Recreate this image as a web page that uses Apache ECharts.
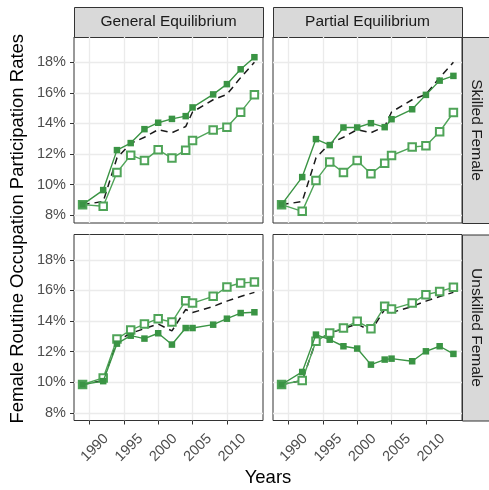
<!DOCTYPE html>
<html>
<head>
<meta charset="utf-8">
<script src="https://cdn.jsdelivr.net/npm/echarts@6/dist/echarts.min.js"></script>
<style>
  html, body { margin: 0; padding: 0; background: #fff; }
  #chart { width: 489px; height: 490px; }
</style>
</head>
<body>
<div id="chart"></div>
<script>
// survey years
const years = [1989, 1992, 1994, 1996, 1998, 2000, 2002, 2004, 2005, 2008, 2010, 2012, 2014]
const xTicks = [1990, 1995, 2000, 2005, 2010]
const yTicks = [8, 10, 12, 14, 16, 18]

const colLabels = ['General Equilibrium', 'Partial Equilibrium']
const rowLabels = ['Skilled Female', 'Unskilled Female']

// skilled female (dashed = data)
const skilledData = [8.7, 8.9, 11.75, 12.7, 13.1, 13.6, 13.4, 13.8, 14.75, 15.55, 15.9, 17.0, 18.0]
const skilledGeFilled = [8.7, 9.65, 12.26, 12.72, 13.63, 14.05, 14.3, 14.48, 15.05, 15.9, 16.57, 17.54, 18.33]
const skilledGeOpen = [8.7, 8.59, 10.8, 11.93, 11.59, 12.28, 11.74, 12.26, 12.89, 13.57, 13.76, 14.74, 15.87]
const skilledPeFilled = [8.7, 10.5, 12.98, 12.59, 13.74, 13.74, 14.02, 13.76, 14.28, 14.93, 15.87, 16.8, 17.11]
const skilledPeOpen = [8.7, 8.26, 10.28, 11.48, 10.8, 11.59, 10.72, 11.41, 11.91, 12.46, 12.54, 13.46, 14.72]

// unskilled female
const unskilledData = [9.85, 10.1, 12.7, 13.2, 13.5, 13.8, 13.35, 14.75, 14.55, 14.95, 15.3, 15.6, 15.87]
const unskilledGeFilled = [9.85, 10.07, 12.52, 13.04, 12.85, 13.2, 12.46, 13.54, 13.54, 13.76, 14.15, 14.52, 14.57]
const unskilledGeOpen = [9.85, 10.28, 12.83, 13.41, 13.8, 14.15, 13.93, 15.33, 15.17, 15.61, 16.22, 16.48, 16.54]
const unskilledPeFilled = [9.85, 10.67, 13.11, 12.78, 12.35, 12.2, 11.15, 11.48, 11.54, 11.37, 12.02, 12.35, 11.85]
const unskilledPeOpen = [9.85, 10.11, 12.67, 13.22, 13.54, 13.98, 13.5, 14.96, 14.78, 15.17, 15.72, 15.93, 16.2]

const panels = [
    { data: skilledData, filled: skilledGeFilled, open: skilledGeOpen },
    { data: skilledData, filled: skilledPeFilled, open: skilledPeOpen },
    { data: unskilledData, filled: unskilledGeFilled, open: unskilledGeOpen },
    { data: unskilledData, filled: unskilledPeFilled, open: unskilledPeOpen }
]

const FONT = '"Liberation Sans", Arial, sans-serif'
const GREEN = '#3a9444'
const GREEN_LIGHT = '#4fa458'
const colLeft = [74, 273]
const rowTop = [37, 234.5]
const panelW = 189
const panelH = 186

const pairs = arr => years.map((y, i) => [y, arr[i]])

const grids = []
const xAxes = []
const yAxes = []
const series = []

panels.forEach((p, i) => {
    const r = Math.floor(i / 2)
    const c = i % 2
    grids.push({
        left: colLeft[c], top: rowTop[r], width: panelW, height: panelH,
        show: true, borderColor: '#333', borderWidth: 1, backgroundColor: '#fff'
    })
    xAxes.push({
        type: 'value', gridIndex: i, min: 1987.75, max: 2015.25,
        axisLine: { show: false },
        axisTick: { show: r === 1, length: 4, customValues: xTicks, lineStyle: { color: '#333', width: 1 } },
        axisLabel: {
            show: r === 1, customValues: xTicks, rotate: 45, margin: 22,
            align: 'center', verticalAlign: 'top', formatter: v => String(v),
            color: '#4d4d4d', fontSize: 14.5, fontFamily: FONT
        },
        splitLine: { show: true, lineStyle: { color: '#ebebeb', width: 1.3 } }
    })
    yAxes.push({
        type: 'value', gridIndex: i, min: 7.5, max: 19.65,
        axisLine: { show: false },
        axisTick: { show: c === 0, length: 4, customValues: yTicks, lineStyle: { color: '#333', width: 1 } },
        axisLabel: {
            show: c === 0, customValues: yTicks, margin: 8,
            formatter: v => v + '%', color: '#4d4d4d', fontSize: 14.5, fontFamily: FONT
        },
        splitLine: { show: true, lineStyle: { color: '#ebebeb', width: 1.3 } }
    })
    series.push({
        type: 'line', xAxisIndex: i, yAxisIndex: i, data: pairs(p.data),
        symbol: 'none', lineStyle: { color: '#1a1a1a', width: 1.5, type: [7, 5] }, z: 2
    })
    series.push({
        type: 'line', xAxisIndex: i, yAxisIndex: i, data: pairs(p.open),
        symbol: 'emptyRect', symbolSize: 7.5,
        itemStyle: { color: GREEN_LIGHT, borderColor: GREEN_LIGHT, borderWidth: 1.2 },
        lineStyle: { color: GREEN_LIGHT, width: 1.4 }, z: 3
    })
    series.push({
        type: 'line', xAxisIndex: i, yAxisIndex: i, data: pairs(p.filled),
        symbol: 'rect', symbolSize: 6.5,
        itemStyle: { color: GREEN },
        lineStyle: { color: GREEN, width: 1.4 }, z: 4
    })
})

// facet strips
const graphics = []
colLabels.forEach((t, c) => {
    graphics.push({
        type: 'rect', left: colLeft[c], top: 7,
        shape: { width: panelW, height: rowTop[0] - 7 },
        style: { fill: '#d9d9d9', stroke: '#333', lineWidth: 1 }
    })
    graphics.push({
        type: 'text', x: colLeft[c] + panelW / 2, y: 7 + (rowTop[0] - 7) / 2,
        style: { text: t, fill: '#1a1a1a', font: '15.5px ' + FONT, align: 'center', verticalAlign: 'middle' }
    })
})
rowLabels.forEach((t, r) => {
    const x0 = colLeft[1] + panelW
    graphics.push({
        type: 'rect', left: x0, top: rowTop[r],
        shape: { width: 489 - x0 + 2, height: panelH },
        style: { fill: '#d9d9d9', stroke: '#333', lineWidth: 1 }
    })
    graphics.push({
        type: 'text', x: x0 + 14, y: rowTop[r] + panelH / 2, rotation: -Math.PI / 2,
        style: { text: t, fill: '#1a1a1a', font: '15.5px ' + FONT, align: 'center', verticalAlign: 'middle' }
    })
})
// axis titles
graphics.push({
    type: 'text', x: (colLeft[0] + colLeft[1] + panelW) / 2, y: 478,
    style: { text: 'Years', fill: '#000', font: '18.5px ' + FONT, align: 'center', verticalAlign: 'middle' }
})
graphics.push({
    type: 'text', x: 18, y: (rowTop[0] + rowTop[1] + panelH) / 2, rotation: Math.PI / 2,
    style: {
        text: 'Female Routine Occupation Participation Rates', fill: '#000', font: '18.5px ' + FONT,
        align: 'center', verticalAlign: 'middle'
    }
})

const chart = echarts.init(document.getElementById('chart'))
chart.setOption({
    animation: false,
    backgroundColor: '#fff',
    grid: grids,
    xAxis: xAxes,
    yAxis: yAxes,
    series: series,
    graphic: graphics
})
</script>
</body>
</html>
